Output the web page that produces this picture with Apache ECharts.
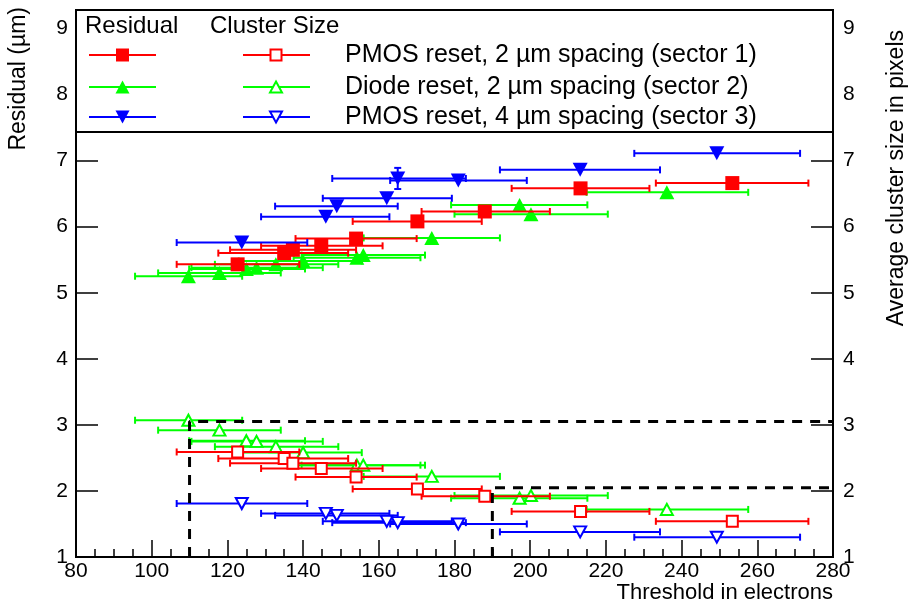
<!DOCTYPE html>
<html><head><meta charset="utf-8">
<script src="https://cdn.jsdelivr.net/npm/echarts@6/dist/echarts.min.js"></script>
<style>html,body{margin:0;padding:0;background:#fff}#c{width:912px;height:608px}</style>
</head><body><div id="c"></div>
<script>
// ---------- data ----------
const xMin = 80, xMax = 280, xStep = 20;
const yMin = 1, yMax = 9.28, yStep = 1;

// Sector 1: PMOS reset, 2 um spacing (red)
const s1X   = [122.7, 135.0, 137.3, 144.8, 154.0, 170.2, 188.0, 213.3, 253.4];
const s1Lo  = [106.6, 117.6, 120.7, 128.9, 138.0, 153.1, 171.3, 195.1, 233.2];
const s1Hi  = [139.0, 151.9, 154.0, 161.0, 170.0, 187.2, 205.2, 231.5, 273.5];
const s1Res = [5.43, 5.60, 5.65, 5.71, 5.82, 6.08, 6.23, 6.58, 6.66];
const s1Clu = [2.59, 2.49, 2.42, 2.34, 2.21, 2.03, 1.92, 1.69, 1.54];

// Sector 2: Diode reset, 2 um spacing (green)
const s2X   = [109.7, 117.9, 125.0, 127.7, 132.8, 140.0, 154.2, 155.9, 174.0, 197.2, 200.2, 236.1];
const s2Lo  = [95.6, 101.7, 109.9, 110.5, 116.7, 123.0, 137.5, 139.6, 156.0, 179.1, 180.0, 214.9];
const s2Hi  = [123.9, 134.1, 140.5, 145.2, 149.3, 155.5, 171.0, 172.2, 192.0, 215.1, 220.5, 257.6];
const s2Res = [5.25, 5.30, 5.36, 5.38, 5.43, 5.48, 5.53, 5.57, 5.83, 6.33, 6.19, 6.52];
const s2Clu = [3.07, 2.92, 2.76, 2.75, 2.67, 2.58, 2.39, 2.39, 2.22, 1.89, 1.93, 1.72];

// Sector 3: PMOS reset, 4 um spacing (blue)
const s3X   = [123.8, 146.0, 148.9, 162.1, 165.0, 181.0, 213.2, 249.3];
const s3Lo  = [106.6, 128.9, 132.6, 145.2, 147.7, 163.0, 192.0, 227.5];
const s3Hi  = [141.1, 162.8, 165.0, 179.3, 183.0, 199.1, 234.3, 271.3];
const s3Res = [5.76, 6.15, 6.31, 6.43, 6.73, 6.70, 6.86, 7.11];
const s3ResYErr = [0, 0, 0, 0, 0.16, 0, 0, 0];
const s3Clu = [1.81, 1.66, 1.63, 1.54, 1.52, 1.50, 1.38, 1.30];

// dashed guide boxes
const boxA = [[110, 1], [110, 3.05], [280, 3.05]];
const boxB = [[190, 1], [190, 2.05], [280, 2.05]];

const legendNames = ['PMOS reset, 2 \u00b5m spacing (sector 1)',
                     'Diode reset, 2 \u00b5m spacing (sector 2)',
                     'PMOS reset, 4 \u00b5m spacing (sector 3)'];
const xTitle = 'Threshold in electrons';
const yTitleL = 'Residual (\u00b5m)';
const yTitleR = 'Average cluster size in pixels';

// ---------- styling ----------
const FONT = '"Liberation Sans", Arial, Helvetica, sans-serif';
const RED = '#ff0000', GREEN = '#00ff00', BLUE = '#0000ff';

function errSeries(xs, lo, hi, ys, color, z, yerr) {
  return {
    type: 'custom', silent: true, z: z, clip: false,
    data: xs.map((x, i) => [x, ys[i], lo[i], hi[i], yerr ? yerr[i] : 0]),
    renderItem: function (params, api) {
      const y = api.value(1);
      const a = api.coord([api.value(2), y]);
      const b = api.coord([api.value(3), y]);
      const st = { stroke: color, lineWidth: 2 };
      const cap = 3.5;
      const ch = [
        { type: 'line', shape: { x1: a[0], y1: a[1], x2: b[0], y2: b[1] }, style: st },
        { type: 'line', shape: { x1: a[0], y1: a[1] - cap, x2: a[0], y2: a[1] + cap }, style: st },
        { type: 'line', shape: { x1: b[0], y1: b[1] - cap, x2: b[0], y2: b[1] + cap }, style: st }
      ];
      const ye = api.value(4);
      if (ye > 0) {
        const t = api.coord([api.value(0), y + ye]);
        const d = api.coord([api.value(0), y - ye]);
        ch.push({ type: 'line', shape: { x1: t[0], y1: t[1], x2: d[0], y2: d[1] }, style: st });
        ch.push({ type: 'line', shape: { x1: t[0] - cap, y1: t[1], x2: t[0] + cap, y2: t[1] }, style: st });
        ch.push({ type: 'line', shape: { x1: d[0] - cap, y1: d[1], x2: d[0] + cap, y2: d[1] }, style: st });
      }
      return { type: 'group', children: ch };
    }
  };
}
function markSeries(xs, ys, color, symbol, rot, open, z) {
  return {
    type: 'scatter', silent: true, z: z,
    data: xs.map((x, i) => [x, ys[i]]),
    symbol: symbol, symbolRotate: rot,
    symbolSize: open ? (symbol === 'rect' ? 11 : [12, 11]) : (symbol === 'rect' ? 14 : [15, 14]),
    itemStyle: open ? { color: '#ffffff', borderColor: color, borderWidth: 2, opacity: 1 }
                    : { color: color, borderWidth: 0, opacity: 1 }
  };
}

const series = [
  errSeries(s2X, s2Lo, s2Hi, s2Res, GREEN, 2),
  markSeries(s2X, s2Res, GREEN, 'triangle', 0, false, 3),
  errSeries(s2X, s2Lo, s2Hi, s2Clu, GREEN, 2),
  markSeries(s2X, s2Clu, GREEN, 'triangle', 0, true, 3),
  errSeries(s1X, s1Lo, s1Hi, s1Res, RED, 4),
  markSeries(s1X, s1Res, RED, 'rect', 0, false, 5),
  errSeries(s1X, s1Lo, s1Hi, s1Clu, RED, 4),
  markSeries(s1X, s1Clu, RED, 'rect', 0, true, 5),
  errSeries(s3X, s3Lo, s3Hi, s3Res, BLUE, 6, s3ResYErr),
  markSeries(s3X, s3Res, BLUE, 'triangle', 180, false, 7),
  errSeries(s3X, s3Lo, s3Hi, s3Clu, BLUE, 6),
  markSeries(s3X, s3Clu, BLUE, 'triangle', 180, true, 7),
  { type: 'line', data: boxA, symbol: 'none', silent: true, z: 10,
    lineStyle: { color: '#000', width: 3, type: [10, 8] } },
  { type: 'line', data: boxB, symbol: 'none', silent: true, z: 10,
    lineStyle: { color: '#000', width: 3, type: [10, 8] } }
];

// legend graphic
const rowsY = [55, 87, 117];
const colors = [RED, GREEN, BLUE];
const G = [];
G.push({ type: 'rect', shape: { x: 76, y: 10, width: 757, height: 122 },
  style: { fill: '#fff', stroke: '#000', lineWidth: 2 }, z: 100 });
G.push({ type: 'text', x: 85, y: 26, z: 101,
  style: { text: 'Residual', font: '24px ' + FONT, fill: '#000', textVerticalAlign: 'middle' } });
G.push({ type: 'text', x: 210, y: 26, z: 101,
  style: { text: 'Cluster Size', font: '24px ' + FONT, fill: '#000', textVerticalAlign: 'middle' } });
function mk(cx, cy, kind, color, open) {
  const st = open ? { fill: '#fff', stroke: color, lineWidth: 2 } : { fill: color };
  const h = open ? 5.5 : 6.5;
  if (kind === 'sq') return { type: 'rect', shape: { x: cx - h, y: cy - h, width: 2 * h, height: 2 * h }, style: st, z: 102 };
  if (kind === 'up') return { type: 'polygon', shape: { points: [[cx, cy - h], [cx + h + 0.5, cy + h], [cx - h - 0.5, cy + h]] }, style: st, z: 102 };
  return { type: 'polygon', shape: { points: [[cx, cy + h], [cx + h + 0.5, cy - h], [cx - h - 0.5, cy - h]] }, style: st, z: 102 };
}
const kinds = ['sq', 'up', 'dn'];
rowsY.forEach((y, i) => {
  const c = colors[i];
  G.push({ type: 'line', shape: { x1: 89, y1: y, x2: 156, y2: y }, style: { stroke: c, lineWidth: 2 }, z: 101 });
  G.push(mk(122.5, y, kinds[i], c, false));
  G.push({ type: 'line', shape: { x1: 243, y1: y, x2: 310, y2: y }, style: { stroke: c, lineWidth: 2 }, z: 101 });
  G.push(mk(276, y, kinds[i], c, true));
  G.push({ type: 'text', x: 345, y: y, z: 101,
    style: { text: legendNames[i], font: '25px ' + FONT, fill: '#000', textVerticalAlign: 'middle' } });
});
// axis titles
G.push({ type: 'text', x: 19, y: 7, rotation: Math.PI / 2, z: 101,
  style: { text: yTitleL, font: '23px ' + FONT, fill: '#000', textAlign: 'right', textVerticalAlign: 'middle' } });
G.push({ type: 'text', x: 897, y: 30, rotation: Math.PI / 2, z: 101,
  style: { text: yTitleR, font: '23px ' + FONT, fill: '#000', textAlign: 'right', textVerticalAlign: 'middle' } });
G.push({ type: 'text', x: 833, y: 593, z: 101,
  style: { text: xTitle, font: '22px ' + FONT, fill: '#000', textAlign: 'right', textVerticalAlign: 'middle' } });

const intFmt = v => (Math.abs(v - Math.round(v)) < 1e-6 ? String(Math.round(v)) : '');
function yAx(pos) {
  return {
    type: 'value', position: pos, min: yMin, max: yMax, interval: yStep,
    axisLine: { show: true, lineStyle: { color: '#000', width: 2 } },
    axisTick: { show: true, inside: true, length: 22, lineStyle: { color: '#000', width: 1.5 } },
    minorTick: { show: false },
    splitLine: { show: false },
    axisLabel: { color: '#000', fontSize: 21, fontFamily: FONT, margin: pos === 'left' ? 8 : 10, formatter: intFmt }
  };
}

const option = {
  animation: false,
  backgroundColor: '#fff',
  grid: { left: 76, right: 79, top: 10, bottom: 51, show: true, borderColor: '#000', borderWidth: 2, backgroundColor: 'transparent' },
  xAxis: {
    type: 'value', min: xMin, max: xMax, interval: xStep,
    axisLine: { show: true, lineStyle: { color: '#000', width: 2 } },
    axisTick: { show: true, inside: true, length: 17, lineStyle: { color: '#000', width: 1.5 } },
    minorTick: { show: true, splitNumber: 4, length: 8, lineStyle: { color: '#000', width: 1.5 } },
    splitLine: { show: false },
    axisLabel: { color: '#000', fontSize: 21, fontFamily: FONT, margin: 4, formatter: intFmt }
  },
  yAxis: [yAx('left'), yAx('right')],
  series: series,
  graphic: G
};
echarts.init(document.getElementById('c'), null, { renderer: 'canvas' }).setOption(option);
</script></body></html>
